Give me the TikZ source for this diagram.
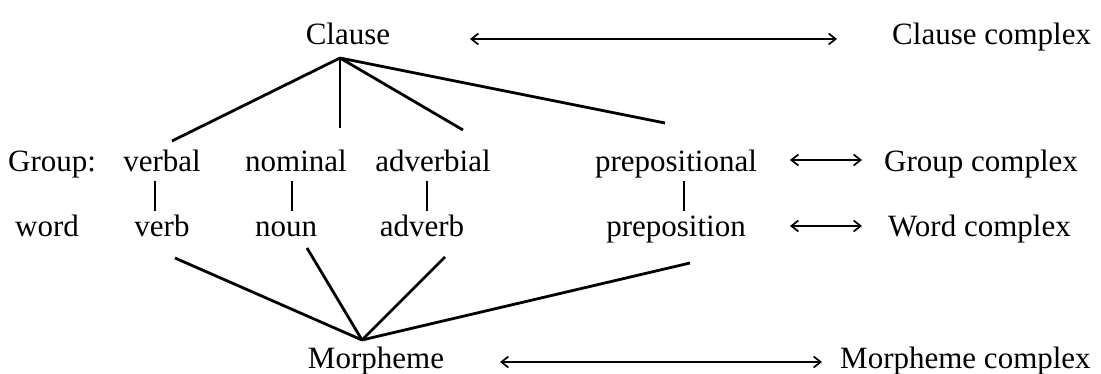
\documentclass[tikz,border=0pt]{standalone}
\usepackage{fontspec}
\setmainfont{Liberation Serif}
\usetikzlibrary{arrows.meta}
\begin{document}
\begin{tikzpicture}[x=1pt,y=-1pt,
  lbl/.style={inner sep=0pt,anchor=base,font=\fontsize{31}{37}\selectfont},
  lblw/.style={lbl,anchor=base west},
  branch/.style={line width=2.8pt},
  stem/.style={line width=2.2pt},
  link/.style={line width=1.7pt,{Straight Barb[length=7pt,width=11pt,line width=1.7pt]}-{Straight Barb[length=7pt,width=11pt,line width=1.7pt]}}]
\useasboundingbox (0,0) rectangle (1101,374);

% rank labels
\node[lbl]  (clause) at (348,45) {Clause};
\node[lblw] (cc)     at (892,45) {Clause complex};
\node[lblw] (group)  at (8,172)  {Group:};
\node[lbl]  (verbal) at (162,172) {verbal};
\node[lbl]  (nominal) at (296,172) {nominal};
\node[lbl]  (adverbial) at (433,172) {adverbial};
\node[lbl]  (prepositional) at (676,172) {prepositional};
\node[lblw] (gc)     at (884,172) {Group complex};
\node[lblw] (word)   at (15,237) {word};
\node[lbl]  (verb)   at (162,237) {verb};
\node[lbl]  (noun)   at (286,237) {noun};
\node[lbl]  (adverb) at (422,237) {adverb};
\node[lbl]  (preposition) at (676,237) {preposition};
\node[lblw] (wc)     at (888,237) {Word complex};
\node[lbl]  (morpheme) at (376,368) {Morpheme};
\node[lblw] (mc)     at (840,368) {Morpheme complex};

% hubs of the two fans
\coordinate (ctop) at (340,58);
\coordinate (mhub) at (362,340);

% line ends beside the labels
\coordinate (e-verbal) at (172,141);
\coordinate (e-nominal) at (340,128);
\coordinate (e-adverbial) at (463,130);
\coordinate (e-prepositional) at (665,123);
\coordinate (e-verb) at (175,258);
\coordinate (e-noun) at (307,248);
\coordinate (e-adverb) at (445,257);
\coordinate (e-preposition) at (690,263);

\draw[branch] (ctop) -- (e-verbal);
\draw[branch] (ctop) -- (e-nominal);
\draw[branch] (ctop) -- (e-adverbial);
\draw[branch] (ctop) -- (e-prepositional);

\draw[branch] (e-verb) -- (mhub);
\draw[branch] (e-noun) -- (mhub);
\draw[branch] (e-adverb) -- (mhub);
\draw[branch] (e-preposition) -- (mhub);

% group-to-word stems
\draw[stem] (155,181) -- (155,211);
\draw[stem] (292,181) -- (292,211);
\draw[stem] (427,181) -- (427,211);
\draw[stem] (684,181) -- (684,211);

% complexing arrows
\coordinate (a1l) at (470,39);  \coordinate (a1r) at (837,39);
\coordinate (a2l) at (790,160); \coordinate (a2r) at (862,160);
\coordinate (a3l) at (790,226); \coordinate (a3r) at (862,226);
\coordinate (a4l) at (500,362); \coordinate (a4r) at (822,362);
\draw[link] (a1l) -- (a1r);
\draw[link] (a2l) -- (a2r);
\draw[link] (a3l) -- (a3r);
\draw[link] (a4l) -- (a4r);
\end{tikzpicture}
\end{document}
